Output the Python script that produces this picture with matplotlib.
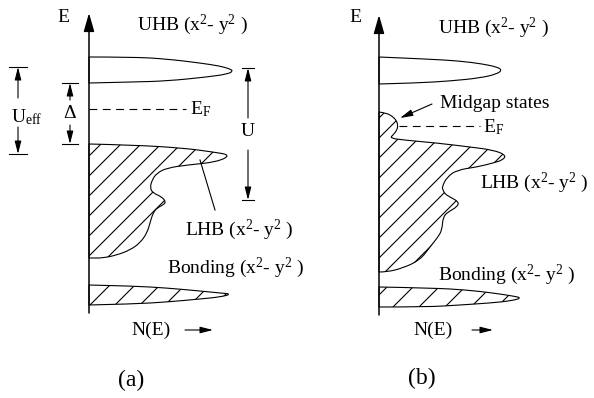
import numpy as np
import matplotlib.pyplot as plt
from matplotlib.patches import PathPatch
from matplotlib.path import Path

plt.rcParams['font.family'] = ['Liberation Serif', 'DejaVu Serif']
plt.rcParams['mathtext.fontset'] = 'custom'
plt.rcParams['mathtext.rm'] = 'Liberation Serif'
plt.rcParams['mathtext.it'] = 'Liberation Serif:italic'

# where N=0, E=0 sits for each panel (figure pixels, y up)
origin_a = (89, 85)
origin_b = (379, 83)
E_TOP = 300

# band outlines, traced from the top edge round to the bottom edge
uhb_a_N = [0, 44, 78, 111, 131, 141, 144, 139, 118, 78, 44, 0]
uhb_a_E = [256, 256, 254, 250, 247, 244, 242, 239, 236, 232, 231, 230]
lhb_a_N = [0, 44, 94, 124, 142, 128, 98, 78, 68, 63, 61, 64, 73, 77, 74, 68,
           64, 61, 58, 51, 41, 28, 14, 3, 0]
lhb_a_E = [169, 168, 165, 161, 158, 151, 148, 145, 140, 133, 125, 120, 116,
           111, 108, 105, 100, 90, 80, 70, 63, 58, 55, 55, 55]
bond_a_N = [0, 44, 78, 111, 131, 143, 131, 111, 78, 44, 0]
bond_a_E = [28, 27, 25, 22, 20, 19, 16, 14, 11, 9, 8]

uhb_b_N = [0, 48, 81, 104, 118, 123, 118, 101, 71, 38, 0]
uhb_b_E = [258, 256, 254, 251, 248, 245, 241, 237, 234, 232, 231]
# midgap lobe runs straight into the lower Hubbard band
lhb_b_N = [0, 7, 13, 17, 19, 18, 14, 11, 24, 58, 91, 114, 127, 124, 114, 98,
           78, 68, 63, 64, 66, 71, 80, 78, 69, 64, 63, 59, 51, 41, 24, 8, 0]
lhb_b_E = [203, 202, 199, 195, 190, 185, 180, 177, 175, 172, 168, 165, 160,
           155, 152, 148, 145, 138, 128, 125, 121, 118, 113, 108, 103, 98, 85,
           78, 68, 55, 47, 43, 43]
bond_b_N = [0, 54, 88, 114, 134, 143, 131, 111, 81, 48, 0]
bond_b_E = [28, 27, 25, 22, 19, 17, 14, 12, 10, 8, 8]

ef_a, ef_b = 204, 189

fig = plt.figure(figsize=(5.94, 3.98), dpi=100)
ax = fig.add_axes([0, 0, 1, 1])
ax.set_xlim(0, 594)
ax.set_ylim(0, 398)
ax.axis('off')

LW = 0.8
FS = 14


def at(o, n, e):
    return o[0] + np.asarray(n, float), o[1] + np.asarray(e, float)


def outline(pts):
    # quadratic curves through the traced points, closed along the E axis
    verts = [pts[0]]
    codes = [Path.MOVETO]
    for i in range(1, len(pts) - 1):
        end = pts[i + 1] if i == len(pts) - 2 else (pts[i] + pts[i + 1]) / 2
        verts += [pts[i], end]
        codes += [Path.CURVE3, Path.CURVE3]
    verts.append(pts[0])
    codes.append(Path.CLOSEPOLY)
    return Path(verts, codes)


def band(o, N, E, hatch=None):
    x, y = at(o, N, E)
    patch = PathPatch(outline(np.column_stack([x, y])), fc='none',
                      ec='k', lw=LW)
    ax.add_patch(patch)
    if hatch:
        c0, step = hatch
        for c in np.arange(c0 - 20 * step, c0 + 20 * step, step):
            ee = np.array([-50, 350])
            hx, hy = at(o, c + ee, ee)
            ln, = ax.plot(hx, hy, color='k', lw=LW)
            ln.set_clip_path(patch)


def arrow(o, tail, tip, lw=LW, hl=0.55, hw=0.14, ms=14):
    ax.annotate('', xy=(o[0] + tip[0], o[1] + tip[1]),
                xytext=(o[0] + tail[0], o[1] + tail[1]),
                arrowprops=dict(arrowstyle=f'-|>,head_length={hl},head_width={hw}',
                                lw=lw, color='k', mutation_scale=ms,
                                shrinkA=0, shrinkB=0))


def energy_axis(o):
    arrow(o, (0, 0), (0, E_TOP), lw=1.1, hl=0.7, hw=0.2, ms=16)


def span(o, n, top, bot, tail_top, tail_bot, half):
    for e in (top, bot):
        x, y = at(o, [n - half, n + half], [e, e])
        ax.plot(x, y, color='k', lw=LW)
    arrow(o, (n, tail_top), (n, top))
    arrow(o, (n, tail_bot), (n, bot))


def label(o, n, e, s, ha='left', size=FS):
    ax.text(o[0] + n, o[1] + e, s, ha=ha, va='center', fontsize=size)


orb = '(x$^2$- y$^2$ )'

# (a) Mott-Hubbard picture
oa = origin_a
energy_axis(oa)
band(oa, uhb_a_N, uhb_a_E)
band(oa, lhb_a_N, lhb_a_E, hatch=(-157, 20))
band(oa, bond_a_N, bond_a_E, hatch=(-7, 25))
x, y = at(oa, [0, 97], [ef_a, ef_a])
ax.plot(x, y, color='k', lw=LW, ls=(0, (7, 5)))
label(oa, 101, ef_a, r'E$_{\rm F}$')
label(oa, -26, 295, 'E', ha='center')
label(oa, 48, 288, 'UHB ' + orb)
span(oa, -71, 246, 159, 215, 186, 9)
label(oa, -78, 196, r'U$_{\rm eff}$')
span(oa, -19, 230, 169, 213, 188, 8)
label(oa, -19, 200, 'Δ', ha='center')
span(oa, 159, 245, 113, 195, 163, 6)
label(oa, 159, 181, 'U', ha='center')
x, y = at(oa, [111, 126], [153, 103])
ax.plot(x, y, color='k', lw=LW)
label(oa, 96, 83, 'LHB ' + orb)
label(oa, 78, 45, 'Bonding ' + orb)
label(oa, 42, -17, 'N(E)')
arrow(oa, (96, -17), (124, -17))
label(oa, 42, -67, '(a)', ha='center', size=17)

# (b) with midgap states
ob = origin_b
energy_axis(ob)
band(ob, uhb_b_N, uhb_b_E)
band(ob, lhb_b_N, lhb_b_E, hatch=(-137, 20))
band(ob, bond_b_N, bond_b_E, hatch=(6, 26))
x, y = at(ob, [20, 101], [ef_b, ef_b])
ax.plot(x, y, color='k', lw=LW, ls=(0, (7, 5)))
label(ob, 104, ef_b - 1, r'E$_{\rm F}$')
label(ob, -24, 298, 'E', ha='center')
label(ob, 59, 287, 'UHB ' + orb)
label(ob, 61, 211, 'Midgap states')
arrow(ob, (53, 211), (21, 197))
label(ob, 101, 132, 'LHB ' + orb)
label(ob, 59, 40, 'Bonding ' + orb)
label(ob, 34, -15, 'N(E)')
arrow(ob, (93, -15), (114, -15))
label(ob, 43, -63, '(b)', ha='center', size=17)

fig.savefig('out.png', dpi=100)
